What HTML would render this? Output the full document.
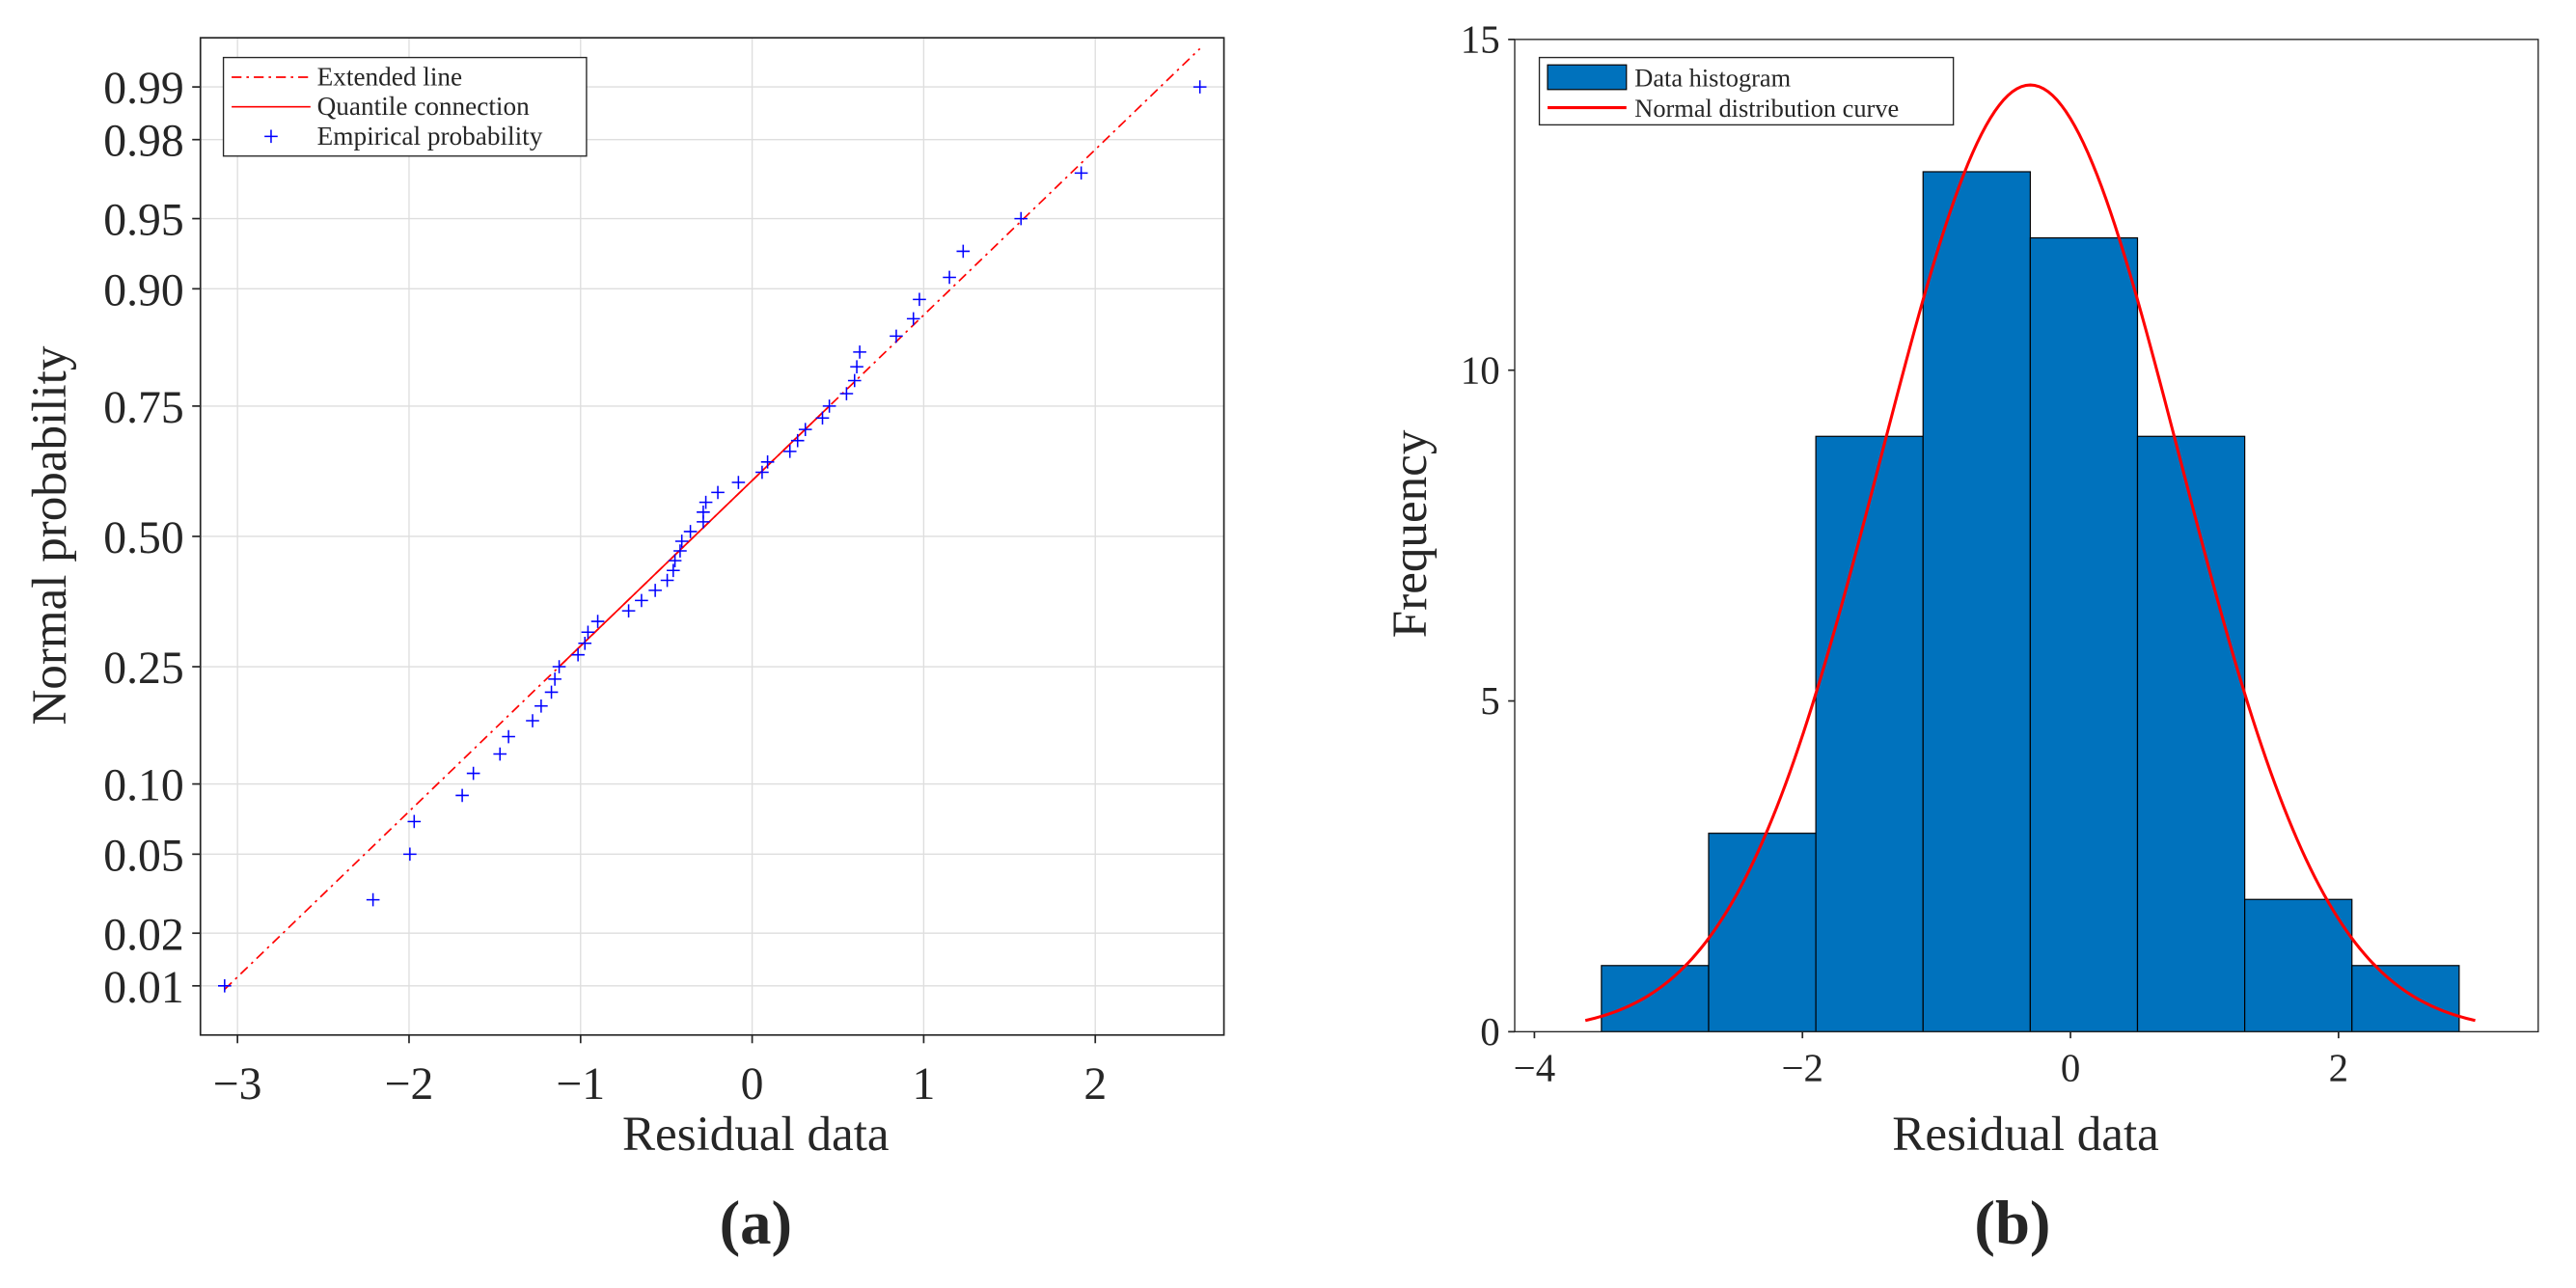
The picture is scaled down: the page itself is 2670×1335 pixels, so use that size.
<!DOCTYPE html>
<html><head><meta charset="utf-8">
<style>
html,body{margin:0;padding:0;background:#fff;}
svg{display:block;}
text{font-family:"Liberation Serif",serif;fill:#262626;}
</style></head>
<body>
<svg id="fig" width="2670" height="1335" viewBox="0 0 1568 784" preserveAspectRatio="none" xmlns="http://www.w3.org/2000/svg">
<rect x="0" y="0" width="1568" height="784" fill="#fff"/>
<g id="plotA"></g>
<g id="plotB"></g>
</svg>
<script>
// ---- Panel (a) data: sorted residuals ----
const residuals = [-3.075,-2.21,-1.995,-1.97,-1.69,-1.625,-1.47,-1.42,-1.28,-1.23,-1.17,-1.15,-1.125,-1.015,-0.975,-0.957,-0.90,-0.72,-0.645,-0.565,-0.495,-0.46,-0.45,-0.42,-0.41,-0.36,-0.285,-0.285,-0.27,-0.20,-0.08,0.058,0.09,0.22,0.265,0.31,0.41,0.45,0.55,0.597,0.61,0.627,0.84,0.94,0.975,1.15,1.23,1.567,1.918,2.61];
const probTicks = [0.01,0.02,0.05,0.10,0.25,0.50,0.75,0.90,0.95,0.98,0.99];
const probTickLabels = ["0.01","0.02","0.05","0.10","0.25","0.50","0.75","0.90","0.95","0.98","0.99"];
const xTicksA = [-3,-2,-1,0,1,2];
const xTickLabelsA = ["\u22123","\u22122","\u22121","0","1","2"];
// ---- Panel (b) data ----
const binEdges = [-3.5,-2.7,-1.9,-1.1,-0.3,0.5,1.3,2.1,2.9];
const binCounts = [1,3,9,13,12,9,2,1];
const fitMean = [-0.30];
const fitStd = [1.115];
const fitRange = [-3.62,3.02];
const xTicksB = [-4,-2,0,2];
const xTickLabelsB = ["\u22124","\u22122","0","2"];
const yTicksB = [0,5,10,15];
const yTickLabelsB = ["0","5","10","15"];

const NS="http://www.w3.org/2000/svg";
function mk(parent,tag,attrs,text){const e=document.createElementNS(NS,tag);for(const k in attrs)e.setAttribute(k,attrs[k]);if(text!==undefined)e.textContent=text;parent.appendChild(e);return e;}
function probit(p){
 const a=[-39.69683028665376,220.9460984245205,-275.9285104469687,138.3577518672690,-30.66479806614716,2.506628277459239];
 const b=[-54.47609879822406,161.5858368580409,-155.6989798598866,66.80131188771972,-13.28068155288572];
 const c=[-0.007784894002430293,-0.3223964580411365,-2.400758277161838,-2.549732539343734,4.374664141464968,2.938163982698783];
 const d=[0.007784695709041462,0.3224671290700398,2.445134137142996,3.754408661907416];
 const pl=0.02425;let q,r;
 if(p<pl){q=Math.sqrt(-2*Math.log(p));return (((((c[0]*q+c[1])*q+c[2])*q+c[3])*q+c[4])*q+c[5])/((((d[0]*q+d[1])*q+d[2])*q+d[3])*q+1);}
 if(p>1-pl){q=Math.sqrt(-2*Math.log(1-p));return -(((((c[0]*q+c[1])*q+c[2])*q+c[3])*q+c[4])*q+c[5])/((((d[0]*q+d[1])*q+d[2])*q+d[3])*q+1);}
 q=p-0.5;r=q*q;return (((((a[0]*r+a[1])*r+a[2])*r+a[3])*r+a[4])*r+a[5])*q/(((((b[0]*r+b[1])*r+b[2])*r+b[3])*r+b[4])*r+1);
}

// ================= Panel (a) =================
(function(){
 const g=document.getElementById('plotA');
 const L=122,R=745,T=23,B=630;
 const xmin=-3.216,xmax=2.75;
 const X=v=>L+(v-xmin)/(xmax-xmin)*(R-L);
 const Z=z=>326.5-117.6*z;
 const Y=p=>Z(probit(p));
 xTicksA.forEach(v=>{const l=mk(g,'line',{x1:X(v),x2:X(v),y1:T,y2:B,stroke:'#dedede','stroke-width':0.8});
  
  });
 probTicks.forEach(p=>{const l=mk(g,'line',{x1:L,x2:R,y1:Y(p),y2:Y(p),stroke:'#dedede','stroke-width':0.8});
  
  });
 const n=residuals.length;
 const i1=Math.round(n*0.25+0.5)-1, i3=Math.round(n*0.75+0.5)-1;
 const q1=residuals[i1], q3=residuals[i3];
 const z1=probit((i1+0.5)/n), z3=probit((i3+0.5)/n);
 const slope=(z3-z1)/(q3-q1);
 const zf=v=>z1+(v-q1)*slope;
 const x0=residuals[0], xn=residuals[n-1];
 const ext=mk(g,'line',{x1:X(x0),y1:Z(zf(x0)),x2:X(xn),y2:Z(zf(xn)),stroke:'#ff0000','stroke-width':1,'stroke-dasharray':'6 3 1.5 3'});
 
 
 const qc=mk(g,'line',{x1:X(q1),y1:Z(zf(q1)),x2:X(q3),y2:Z(zf(q3)),stroke:'#ff0000','stroke-width':1});
 
 
 residuals.forEach((v,i)=>{
  const cx=X(v), cy=Y((i+0.5)/n), s=4;
  const m=mk(g,'path',{d:`M${cx-s},${cy}H${cx+s}M${cx},${cy-s}V${cy+s}`,stroke:'#0000ff','stroke-width':0.9,fill:'none'});
  
  
 });
 const box=mk(g,'rect',{x:L,y:T,width:R-L,height:B-T,fill:'none',stroke:'#262626','stroke-width':1});
 
 
 xTicksA.forEach((v,k)=>{
  mk(g,'line',{x1:X(v),x2:X(v),y1:B,y2:B+5,stroke:'#262626','stroke-width':1});
  const t=mk(g,'text',{x:X(v),y:B+39,'font-size':28,'text-anchor':'middle'},xTickLabelsA[k]);
  
  
 });
 probTicks.forEach((p,k)=>{
  mk(g,'line',{x1:L-5,x2:L,y1:Y(p),y2:Y(p),stroke:'#262626','stroke-width':1});
  const t=mk(g,'text',{x:112,y:Y(p)+10,'font-size':28,'text-anchor':'end'},probTickLabels[k]);
  
  
 });
 const xt=mk(g,'text',{x:460,y:700,'font-size':30,'text-anchor':'middle'},'Residual data');
 
 
 const yt=mk(g,'text',{x:0,y:0,'font-size':30,'text-anchor':'middle',transform:'translate(40,326) rotate(-90)'},'Normal probability');
 
 
 const cap=mk(g,'text',{x:460,y:757,'font-size':38,'text-anchor':'middle','font-weight':'bold',fill:'#000'},'(a)');
 
 
 const lg=mk(g,'g',{});
 
 
 mk(lg,'rect',{x:136,y:35,width:221,height:60,fill:'#fff',stroke:'#262626','stroke-width':0.8});
 mk(lg,'line',{x1:141,x2:189,y1:47,y2:47,stroke:'#ff0000','stroke-width':1,'stroke-dasharray':'6 3 1.5 3'});
 mk(lg,'line',{x1:141,x2:189,y1:65,y2:65,stroke:'#ff0000','stroke-width':1});
 mk(lg,'path',{d:'M161,83H169M165,79V87',stroke:'#0000ff','stroke-width':0.9});
 [['Extended line',52],['Quantile connection',70],['Empirical probability',88]].forEach(a=>{
  const t=mk(lg,'text',{x:193,y:a[1],'font-size':16},a[0]);
  
  
 });
})();

// ================= Panel (b) =================
(function(){
 const g=document.getElementById('plotB');
 const L=922,R=1545,T=24,B=628;
 const xmin=-4.147,xmax=3.49;
 const X=v=>L+(v-xmin)/(xmax-xmin)*(R-L);
 const Y=v=>B-(v/15)*(B-T);
 binCounts.forEach((c,i)=>{
  const r=mk(g,'rect',{x:X(binEdges[i]),y:Y(c),width:X(binEdges[i+1])-X(binEdges[i]),height:Y(0)-Y(c),fill:'#0072BD',stroke:'#000','stroke-width':0.7});
  
  
 });
 const N=binCounts.reduce((a,b)=>a+b,0);
 const w=binEdges[1]-binEdges[0];
 const mu=fitMean[0], sd=fitStd[0];
 let d='';
 for(let k=0;k<=200;k++){
  const v=fitRange[0]+(fitRange[1]-fitRange[0])*k/200;
  const f=N*w*Math.exp(-0.5*((v-mu)/sd)**2)/(sd*Math.sqrt(2*Math.PI));
  d+=(k?'L':'M')+X(v).toFixed(2)+','+Y(f).toFixed(2);
 }
 const cv=mk(g,'path',{d:d,fill:'none',stroke:'#ff0000','stroke-width':1.8});
 
 
 const box=mk(g,'rect',{x:L,y:T,width:R-L,height:B-T,fill:'none',stroke:'#262626','stroke-width':0.8});
 
 
 xTicksB.forEach((v,k)=>{
  mk(g,'line',{x1:X(v),x2:X(v),y1:B,y2:B+4,stroke:'#262626','stroke-width':1});
  const t=mk(g,'text',{x:X(v),y:B+30,'font-size':24,'text-anchor':'middle'},xTickLabelsB[k]);
  
  
 });
 yTicksB.forEach((v,k)=>{
  mk(g,'line',{x1:L-4,x2:L,y1:Y(v),y2:Y(v),stroke:'#262626','stroke-width':1});
  const t=mk(g,'text',{x:L-9,y:Y(v)+8,'font-size':24,'text-anchor':'end'},yTickLabelsB[k]);
  
  
 });
 const xt=mk(g,'text',{x:1233,y:700,'font-size':30,'text-anchor':'middle'},'Residual data');
 
 
 const yt=mk(g,'text',{x:0,y:0,'font-size':30,'text-anchor':'middle',transform:'translate(868,325) rotate(-90)'},'Frequency');
 
 
 const cap=mk(g,'text',{x:1225,y:757,'font-size':38,'text-anchor':'middle','font-weight':'bold',fill:'#000'},'(b)');
 
 
 const lg=mk(g,'g',{});
 
 
 mk(lg,'rect',{x:937,y:35,width:252,height:41,fill:'#fff',stroke:'#262626','stroke-width':0.8});
 mk(lg,'rect',{x:942,y:39.5,width:48,height:15,fill:'#0072BD',stroke:'#000','stroke-width':0.7});
 mk(lg,'line',{x1:942,x2:990,y1:65.5,y2:65.5,stroke:'#ff0000','stroke-width':1.8});
 [['Data histogram',52.5],['Normal distribution curve',71]].forEach(a=>{
  const t=mk(lg,'text',{x:995,y:a[1],'font-size':15.5},a[0]);
  
  
 });
})();
</script>
</body></html>
